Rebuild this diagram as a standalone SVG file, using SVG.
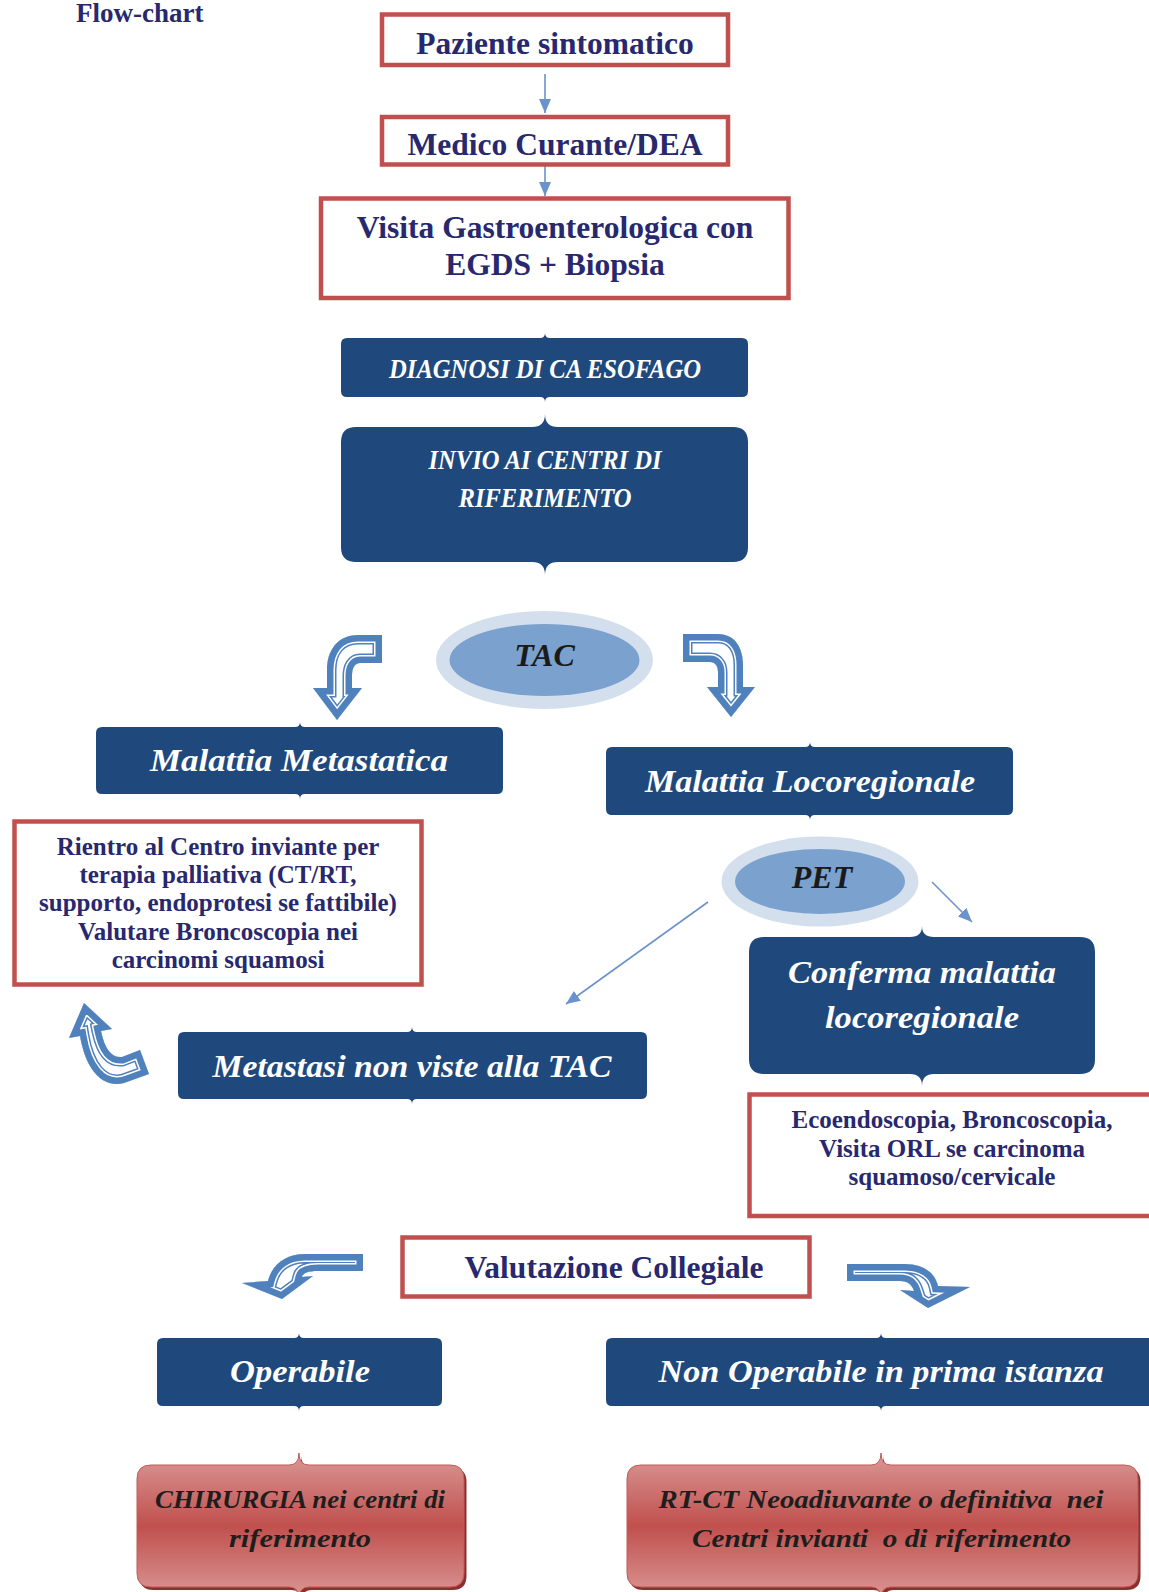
<svg xmlns="http://www.w3.org/2000/svg" xmlns:xlink="http://www.w3.org/1999/xlink" width="1149" height="1592" viewBox="0 0 1149 1592">
<style>
.rb{fill:#fff;stroke:#C0504D;stroke-width:4.5}
.t{font-family:"Liberation Serif","Times New Roman",serif;font-weight:bold;fill:#28286E;text-anchor:middle}
.w{font-family:"Liberation Serif","Times New Roman",serif;font-weight:bold;font-style:italic;fill:#fff;text-anchor:middle}
.d{font-family:"Liberation Serif","Times New Roman",serif;font-weight:bold;font-style:italic;fill:#1E1E1E;text-anchor:middle;white-space:pre}
.bb{fill:#1F497D}
.red{fill:url(#rg);stroke:#C35A57;stroke-width:1}
.sh{fill:#8A302E}
.eo{fill:#D4DFEE}
.ei{fill:#7BA1CE}
.et{font-family:"Liberation Serif","Times New Roman",serif;font-weight:bold;font-style:italic;fill:#1A1A1A;text-anchor:middle;font-size:32px}
.ln{fill:none;stroke:#6A93CD;stroke-width:1.6;marker-end:url(#ah)}
.o1{fill:#fff;stroke:#4F81BD;stroke-width:19}
.o2{fill:none;stroke:#fff;stroke-width:16}
.o3{fill:none;stroke:#4F81BD;stroke-width:13}
</style>
<defs>
<marker id="ah" markerUnits="userSpaceOnUse" markerWidth="14" markerHeight="12" refX="14" refY="6" orient="auto">
<path d="M0,0 L14,6 L0,12 Z" fill="#6A93CD"/>
</marker>
<linearGradient id="rg" x1="0" y1="0" x2="0" y2="1">
<stop offset="0" stop-color="#DA9896"/>
<stop offset="0.5" stop-color="#C0504D"/>
<stop offset="1" stop-color="#DA9896"/>
</linearGradient>
<path id="a1" d="M382,635 L382,663 L360,663 C355,663 352,668 352,676 L352,688 L362,688 L337,720 L313,688 L327,688 L327,670 C327,650 338,635 358,635 Z"/>
<path id="a2" d="M683,634 L718,634 C735,634 743,648 743,665 L743,687 L755,687 L731,717 L707,687 L718,687 L718,672 C718,666 715,662 710,662 L683,662 Z"/>
<path id="a3" d="M84,1003 L112,1029 L101,1031 C105,1050 112,1058 122,1057 L140,1050 L149,1074 L124,1083 C100,1089 85,1066 80,1036 L69,1038 Z"/>
<path id="a4" d="M363,1254 L363,1271 L318,1271 C308,1271 303,1273 302,1277 L313,1276 L282,1299 L242,1283 L268,1281 C272,1265 285,1254 305,1254 Z"/>
<path id="a5" d="M847,1264 L905,1264 C922,1264 935,1272 938,1286 L970,1287 L928,1308 L900,1290 L914,1291 C912,1285 908,1281 900,1281 L847,1281 Z"/>
<clipPath id="c1"><use xlink:href="#a1"/></clipPath>
<clipPath id="c2"><use xlink:href="#a2"/></clipPath>
<clipPath id="c3"><use xlink:href="#a3"/></clipPath>
<clipPath id="c4"><use xlink:href="#a4"/></clipPath>
<clipPath id="c5"><use xlink:href="#a5"/></clipPath>
</defs>
<rect width="1149" height="1592" fill="#fff"/>

<g id="title"><text class="t" x="76" y="22" font-size="27" style="text-anchor:start">Flow-chart</text></g>

<g id="connectors">
<path class="ln" d="M545,74 L545,113"/>
<path class="ln" d="M545,153 L545,196"/>
<path class="ln" d="M932,882 L972,922"/>
<path class="ln" d="M708,902 L566,1004"/>
<g clip-path="url(#c1)"><use xlink:href="#a1" class="o1"/><use xlink:href="#a1" class="o2"/><use xlink:href="#a1" class="o3"/></g>
<g clip-path="url(#c2)"><use xlink:href="#a2" class="o1"/><use xlink:href="#a2" class="o2"/><use xlink:href="#a2" class="o3"/></g>
<g clip-path="url(#c3)"><use xlink:href="#a3" class="o1"/><use xlink:href="#a3" class="o2"/><use xlink:href="#a3" class="o3"/></g>
<g clip-path="url(#c4)"><use xlink:href="#a4" class="o1"/><use xlink:href="#a4" class="o2"/><use xlink:href="#a4" class="o3"/></g>
<g clip-path="url(#c5)"><use xlink:href="#a5" class="o1"/><use xlink:href="#a5" class="o2"/><use xlink:href="#a5" class="o3"/></g>
</g>

<g id="paziente">
<rect class="rb" x="382" y="14.5" width="346" height="50.5"/>
<text class="t" x="555" y="53.5" font-size="31.5">Paziente sintomatico</text>
</g>
<g id="medico">
<rect class="rb" x="382" y="117" width="346" height="47.5"/>
<text class="t" x="555" y="154.5" font-size="31.5">Medico Curante/DEA</text>
</g>
<g id="visita">
<rect class="rb" x="321" y="198.5" width="467.5" height="99.5"/>
<text class="t" x="555" y="237.5" font-size="31.5">Visita Gastroenterologica con</text>
<text class="t" x="555" y="274.5" font-size="31.5">EGDS + Biopsia</text>
</g>

<g id="diagnosi">
<path class="bb" d="M347,338 L540,338 Q545,338 545,333 Q545,338 550,338 L742,338 Q748,338 748,344 L748,391 Q748,397 742,397 L550,397 Q545,397 545,402 Q545,397 540,397 L347,397 Q341,397 341,391 L341,344 Q341,338 347,338 Z"/>
<text class="w" x="545" y="378" font-size="27" textLength="312" lengthAdjust="spacingAndGlyphs">DIAGNOSI DI CA ESOFAGO</text>
</g>
<g id="invio">
<path class="bb" d="M356,427 L532,427 Q545,427 545,414 Q545,427 558,427 L733,427 Q748,427 748,442 L748,547 Q748,562 733,562 L558,562 Q545,562 545,575 Q545,562 532,562 L356,562 Q341,562 341,547 L341,442 Q341,427 356,427 Z"/>
<text class="w" x="545" y="469" font-size="27" textLength="233" lengthAdjust="spacingAndGlyphs">INVIO AI CENTRI DI</text>
<text class="w" x="545" y="507" font-size="27" textLength="173" lengthAdjust="spacingAndGlyphs">RIFERIMENTO</text>
</g>

<g id="tac">
<ellipse class="eo" cx="544.5" cy="660" rx="108.5" ry="49"/>
<ellipse class="ei" cx="544.5" cy="660" rx="95" ry="36"/>
<text class="et" x="544.5" y="666">TAC</text>
</g>

<g id="metastatica">
<path class="bb" d="M102,727 L295,727 Q300,727 300,722 Q300,727 305,727 L497,727 Q503,727 503,733 L503,788 Q503,794 497,794 L305,794 Q300,794 300,799 Q300,794 295,794 L102,794 Q96,794 96,788 L96,733 Q96,727 102,727 Z"/>
<text class="w" x="299" y="771" font-size="31" textLength="298" lengthAdjust="spacingAndGlyphs">Malattia Metastatica</text>
</g>
<g id="locoregionale">
<path class="bb" d="M612,747 L805,747 Q810,747 810,742 Q810,747 815,747 L1007,747 Q1013,747 1013,753 L1013,809 Q1013,815 1007,815 L815,815 Q810,815 810,820 Q810,815 805,815 L612,815 Q606,815 606,809 L606,753 Q606,747 612,747 Z"/>
<text class="w" x="810" y="792" font-size="31" textLength="330" lengthAdjust="spacingAndGlyphs">Malattia Locoregionale</text>
</g>

<g id="rientro">
<rect class="rb" x="14.5" y="821.5" width="407" height="163"/>
<text class="t" x="218" y="855" font-size="25">Rientro al Centro inviante per</text>
<text class="t" x="218" y="883" font-size="25">terapia palliativa (CT/RT,</text>
<text class="t" x="218" y="911" font-size="25">supporto, endoprotesi se fattibile)</text>
<text class="t" x="218" y="940" font-size="25">Valutare Broncoscopia nei</text>
<text class="t" x="218" y="968" font-size="25">carcinomi squamosi</text>
</g>

<g id="pet">
<ellipse class="eo" cx="820" cy="881.5" rx="98.5" ry="45"/>
<ellipse class="ei" cx="820" cy="881.5" rx="85" ry="32.5"/>
<text class="et" x="822" y="888">PET</text>
</g>

<g id="conferma">
<path class="bb" d="M764,937 L910,937 Q922,937 922,926 Q922,937 934,937 L1080,937 Q1095,937 1095,952 L1095,1059 Q1095,1074 1080,1074 L934,1074 Q922,1074 922,1086 Q922,1074 910,1074 L764,1074 Q749,1074 749,1059 L749,952 Q749,937 764,937 Z"/>
<text class="w" x="922" y="983" font-size="31" textLength="268" lengthAdjust="spacingAndGlyphs">Conferma malattia</text>
<text class="w" x="922" y="1028" font-size="31" textLength="194" lengthAdjust="spacingAndGlyphs">locoregionale</text>
</g>

<g id="metastasi">
<path class="bb" d="M184,1032 L407,1032 Q412,1032 412,1027 Q412,1032 417,1032 L641,1032 Q647,1032 647,1038 L647,1093 Q647,1099 641,1099 L417,1099 Q412,1099 412,1104 Q412,1099 407,1099 L184,1099 Q178,1099 178,1093 L178,1038 Q178,1032 184,1032 Z"/>
<text class="w" x="412" y="1077" font-size="31" textLength="399" lengthAdjust="spacingAndGlyphs">Metastasi non viste alla TAC</text>
</g>

<g id="ecoendoscopia">
<rect class="rb" x="749.5" y="1094.5" width="420" height="121.5"/>
<text class="t" x="952" y="1128" font-size="25">Ecoendoscopia, Broncoscopia,</text>
<text class="t" x="952" y="1157" font-size="25">Visita ORL se carcinoma</text>
<text class="t" x="952" y="1185" font-size="25">squamoso/cervicale</text>
</g>

<g id="valutazione">
<rect class="rb" x="402.5" y="1237.5" width="407" height="59"/>
<text class="t" x="614" y="1278" font-size="31.5">Valutazione Collegiale</text>
</g>

<g id="operabile">
<path class="bb" d="M163,1338 L294,1338 Q299,1338 299,1333 Q299,1338 304,1338 L436,1338 Q442,1338 442,1344 L442,1400 Q442,1406 436,1406 L304,1406 Q299,1406 299,1411 Q299,1406 294,1406 L163,1406 Q157,1406 157,1400 L157,1344 Q157,1338 163,1338 Z"/>
<text class="w" x="300" y="1382" font-size="31" textLength="140" lengthAdjust="spacingAndGlyphs">Operabile</text>
</g>
<g id="nonoperabile">
<path class="bb" d="M612,1338 L876,1338 Q881,1338 881,1333 Q881,1338 886,1338 L1156,1338 Q1162,1338 1162,1344 L1162,1400 Q1162,1406 1156,1406 L886,1406 Q881,1406 881,1411 Q881,1406 876,1406 L612,1406 Q606,1406 606,1400 L606,1344 Q606,1338 612,1338 Z"/>
<text class="w" x="881" y="1382" font-size="31" textLength="445" lengthAdjust="spacingAndGlyphs">Non Operabile in prima istanza</text>
</g>

<g id="chirurgia">
<path class="sh" transform="translate(2.5,3)" d="M151,1465 L289,1465 Q299,1465 299,1453 Q299,1465 309,1465 L450,1465 Q464,1465 464,1479 L464,1573 Q464,1587 450,1587 L309,1587 Q299,1587 299,1599 Q299,1587 289,1587 L151,1587 Q137,1587 137,1573 L137,1479 Q137,1465 151,1465 Z"/>
<path class="red" d="M151,1465 L289,1465 Q299,1465 299,1453 Q299,1465 309,1465 L450,1465 Q464,1465 464,1479 L464,1573 Q464,1587 450,1587 L309,1587 Q299,1587 299,1599 Q299,1587 289,1587 L151,1587 Q137,1587 137,1573 L137,1479 Q137,1465 151,1465 Z"/>
<text class="d" x="300" y="1508" font-size="26" textLength="290" lengthAdjust="spacingAndGlyphs">CHIRURGIA nei centri di</text>
<text class="d" x="300" y="1547" font-size="26" textLength="142" lengthAdjust="spacingAndGlyphs">riferimento</text>
</g>
<g id="rtct">
<path class="sh" transform="translate(2.5,3)" d="M641,1465 L871,1465 Q881,1465 881,1453 Q881,1465 891,1465 L1124,1465 Q1138,1465 1138,1479 L1138,1573 Q1138,1587 1124,1587 L891,1587 Q881,1587 881,1599 Q881,1587 871,1587 L641,1587 Q627,1587 627,1573 L627,1479 Q627,1465 641,1465 Z"/>
<path class="red" d="M641,1465 L871,1465 Q881,1465 881,1453 Q881,1465 891,1465 L1124,1465 Q1138,1465 1138,1479 L1138,1573 Q1138,1587 1124,1587 L891,1587 Q881,1587 881,1599 Q881,1587 871,1587 L641,1587 Q627,1587 627,1573 L627,1479 Q627,1465 641,1465 Z"/>
<text class="d" x="881" y="1508" font-size="26" textLength="445" lengthAdjust="spacingAndGlyphs">RT-CT Neoadiuvante o definitiva  nei</text>
<text class="d" x="881.5" y="1547" font-size="26" textLength="379" lengthAdjust="spacingAndGlyphs">Centri invianti  o di riferimento</text>
</g>
</svg>
